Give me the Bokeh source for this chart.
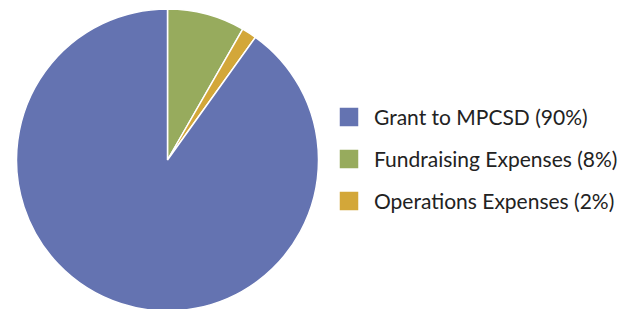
import math
from bokeh.plotting import figure
from bokeh.models import ColumnDataSource, Legend, LegendItem, Range1d
from bokeh.embed import file_html
from bokeh.resources import INLINE

# Data, drawn clockwise from 12 o'clock
categories = ["Fundraising Expenses (8%)", "Operations Expenses (2%)", "Grant to MPCSD (90%)"]
values = [8.3, 1.6, 90.1]
colors = ["#97ab5d", "#d3a739", "#6473b1"]
legend_order = [2, 0, 1]

W, H = 622, 309
total = sum(values)
starts, ends = [], []
a = math.pi / 2
for v in values:
    starts.append(a)
    a -= 2 * math.pi * v / total
    ends.append(a)

p = figure(width=W, height=H, output_backend="svg", toolbar_location=None,
           x_range=Range1d(0, W), y_range=Range1d(0, H), min_border=0)
p.axis.visible = False
p.grid.visible = False
p.outline_line_color = None
p.background_fill_color = "white"

cx, cy, r = 167, H - 159.5, 151
renderers = []
for i in range(len(values)):
    view_src = ColumnDataSource(dict(x=[cx], y=[cy], start=[starts[i]], end=[ends[i]]))
    rr = p.wedge(x="x", y="y", radius=r, start_angle="start", end_angle="end", direction="clock",
                 fill_color=colors[i], line_color="white", line_width=1.5, source=view_src)
    renderers.append(rr)

items = [LegendItem(label=categories[i], renderers=[renderers[i]]) for i in legend_order]
legend = Legend(items=items, location=(336, 96), orientation="vertical",
                glyph_width=25, glyph_height=25, spacing=17, label_standoff=13,
                padding=0, margin=0, border_line_color=None, background_fill_alpha=0,
                label_text_font="Lato", label_text_font_size="21px", label_text_color="#222222",
                label_height=25)
p.add_layout(legend, "center")

open("out.html", "w").write(file_html(p, INLINE))
